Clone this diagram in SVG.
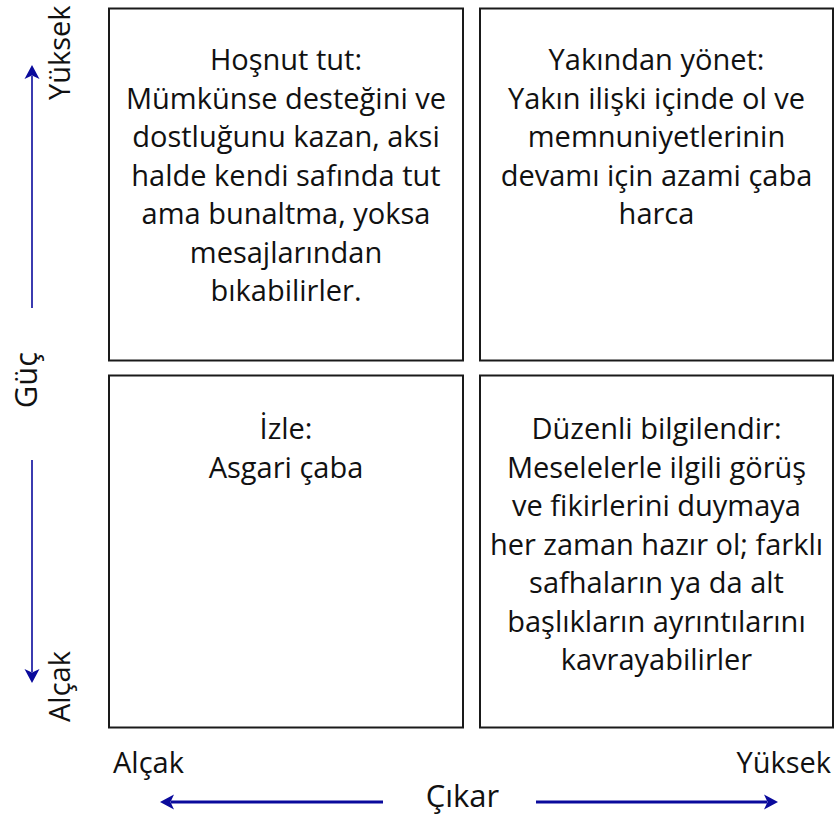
<svg xmlns="http://www.w3.org/2000/svg" width="836" height="822" viewBox="0 0 836 822">
<style>
.box{fill:#fff;stroke:#1a1a1a;stroke-width:2}
.t{font-family:"Open Sans","Noto Sans",sans-serif;font-size:29px;fill:#111;text-anchor:middle}
.ax{font-family:"Open Sans","Noto Sans",sans-serif;font-size:29px;fill:#111}
.big{font-size:31px}
.arr{stroke:#0a0a9c;fill:none}
</style>
<defs>
<marker id="ah" markerUnits="userSpaceOnUse" markerWidth="16" markerHeight="16" refX="3" refY="8" orient="auto" overflow="visible">
<path d="M0,0.5 L14,8 L0,15.5 L3.5,8 Z" fill="#0a0a9c"/>
</marker>
</defs>
<rect width="836" height="822" fill="#fff"/>
<g id="q-hosnut">
<rect class="box" x="109" y="8.5" width="354" height="352"/>
<text class="t"><tspan x="286" y="70">Hoşnut tut:</tspan><tspan x="286" y="108.5">Mümkünse desteğini ve</tspan><tspan x="286" y="147">dostluğunu kazan, aksi</tspan><tspan x="286" y="185.5">halde kendi safında tut</tspan><tspan x="286" y="224">ama bunaltma, yoksa</tspan><tspan x="286" y="262.5">mesajlarından</tspan><tspan x="286" y="301">bıkabilirler.</tspan></text>
</g>
<g id="q-yakindan">
<rect class="box" x="480" y="8.5" width="353" height="352"/>
<text class="t"><tspan x="656.5" y="70">Yakından yönet:</tspan><tspan x="656.5" y="108.5">Yakın ilişki içinde ol ve</tspan><tspan x="656.5" y="147">memnuniyetlerinin</tspan><tspan x="656.5" y="185.5">devamı için azami çaba</tspan><tspan x="656.5" y="224">harca</tspan></text>
</g>
<g id="q-izle">
<rect class="box" x="109" y="375.5" width="354" height="352"/>
<text class="t"><tspan x="286" y="439">İzle:</tspan><tspan x="286" y="477.5">Asgari çaba</tspan></text>
</g>
<g id="q-duzenli">
<rect class="box" x="480" y="375.5" width="353" height="352"/>
<text class="t"><tspan x="656.5" y="439">Düzenli bilgilendir:</tspan><tspan x="656.5" y="477.5">Meselelerle ilgili görüş</tspan><tspan x="656.5" y="516">ve fikirlerini duymaya</tspan><tspan x="656.5" y="554.5">her zaman hazır ol; farklı</tspan><tspan x="656.5" y="593">safhaların ya da alt</tspan><tspan x="656.5" y="631.5">başlıkların ayrıntılarını</tspan><tspan x="656.5" y="670">kavrayabilirler</tspan></text>
</g>
<g id="axis-labels">
<text class="ax" transform="translate(70,100) rotate(-90)">Yüksek</text>
<text class="ax big" text-anchor="middle" transform="translate(37,380) rotate(-90)">Güç</text>
<text class="ax" transform="translate(70,722) rotate(-90)">Alçak</text>
<text class="ax" x="113" y="773">Alçak</text>
<text class="ax" x="831" y="773" text-anchor="end">Yüksek</text>
<text class="ax big" x="462.5" y="807" text-anchor="middle">Çıkar</text>
</g>
<g id="connectors">
<line class="arr" x1="32" y1="308" x2="32" y2="76" stroke-width="1.6" marker-end="url(#ah)"/>
<line class="arr" x1="32" y1="460" x2="32" y2="672" stroke-width="1.6" marker-end="url(#ah)"/>
<line class="arr" x1="383" y1="802" x2="171" y2="802" stroke-width="3" marker-end="url(#ah)"/>
<line class="arr" x1="536" y1="802" x2="767" y2="802" stroke-width="3" marker-end="url(#ah)"/>
</g>
</svg>
